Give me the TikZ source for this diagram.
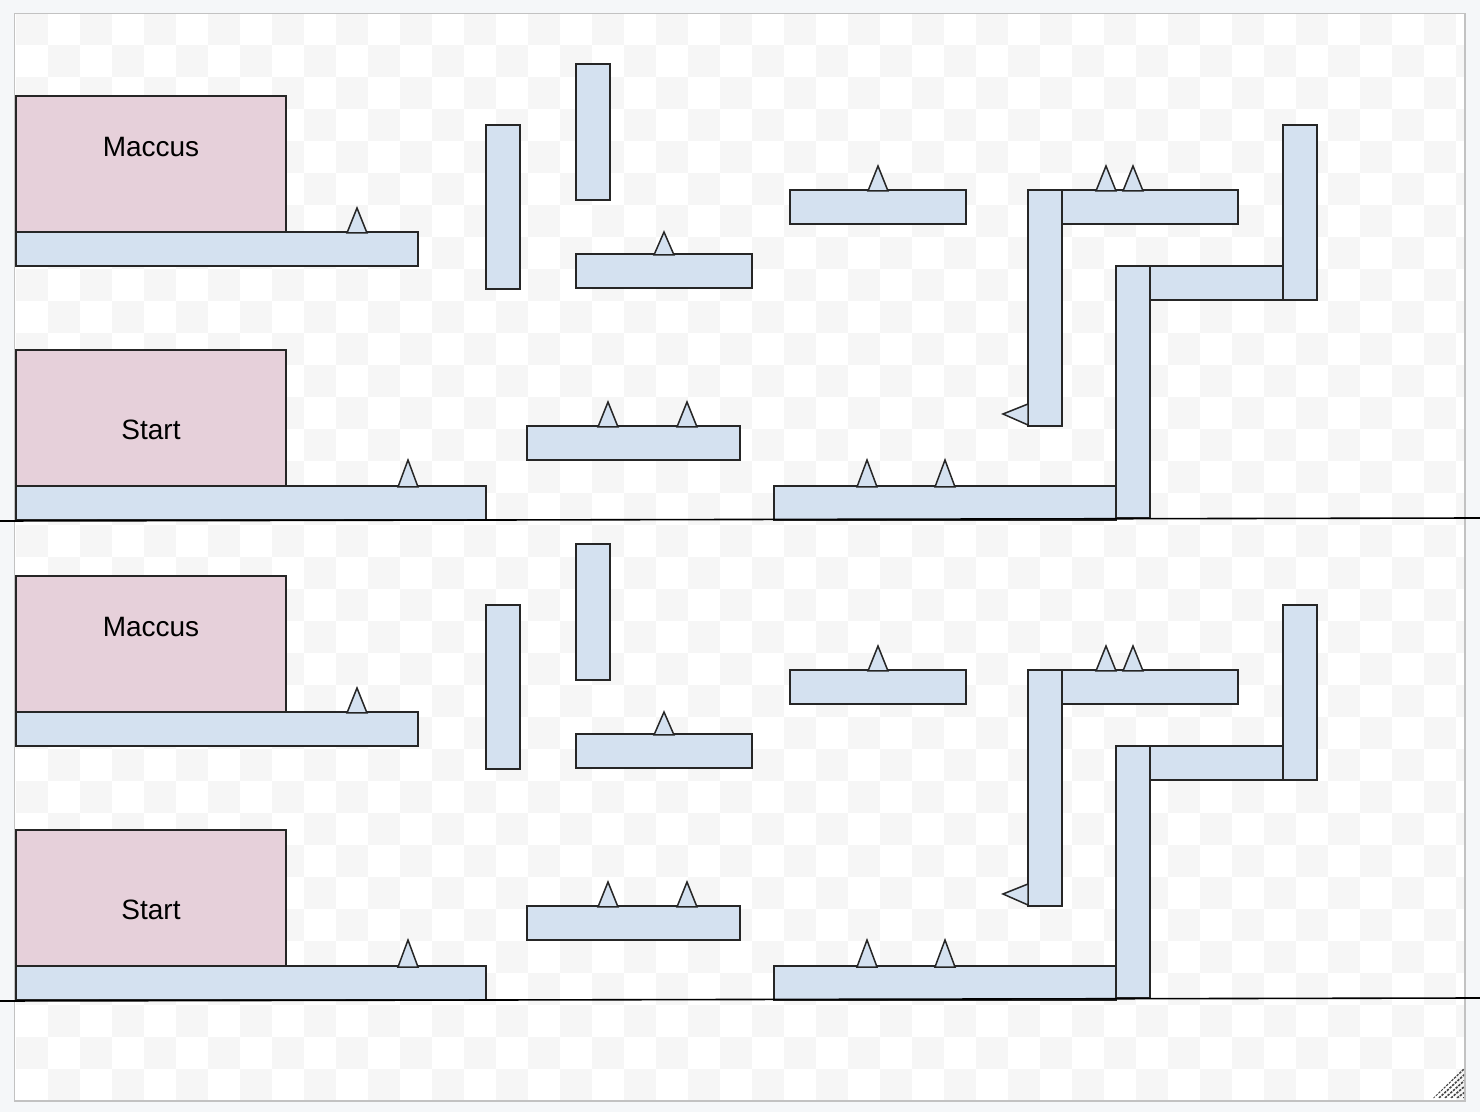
\documentclass[tikz,border=0pt]{standalone}
\usepackage{fontspec}
\setmainfont{Liberation Sans}
\definecolor{bgout}{HTML}{F5F7F9}
\definecolor{checkc}{HTML}{F6F6F6}
\definecolor{framec}{HTML}{C2C2C2}
\definecolor{strokec}{HTML}{262626}
\definecolor{bluef}{HTML}{D4E1F0}
\definecolor{pinkf}{HTML}{E6D0DA}
\definecolor{gripc}{HTML}{444444}
\begin{document}
\begin{tikzpicture}[x=0.5pt,y=-0.5pt,
  plat/.style={draw=strokec,fill=bluef,line width=0.75pt},
  roombox/.style={draw=strokec,fill=pinkf,line width=0.75pt},
  spike/.style={draw=strokec,fill=bluef,line width=0.75pt,line join=miter},
  floorline/.style={draw=black,line width=0.8pt},
  roomlabel/.style={font=\fontsize{14}{16}\selectfont,anchor=base,inner sep=0pt}]
\useasboundingbox (0,0) rectangle (1480,1112);
\fill[bgout] (0,0) rectangle (1480,1112);
\fill[white] (15,14) rectangle (1465,1101);
\begin{scope}
  \clip (15,14) rectangle (1465,1101);
  \foreach \i in {0,...,45} {
    \foreach \j in {0,...,33} {
      \pgfmathtruncatemacro{\cpar}{mod(\i+\j,2)}
      \ifnum\cpar=0
        \fill[checkc] (16+32*\i,13+32*\j) rectangle +(32,32);
      \fi
    }
  }
\end{scope}
\draw[framec,line width=0.9pt] (14.5,13.5) rectangle (1465,1101);
% resize grip
\begin{scope}
  \clip (1433,1098) -- (1464,1098) -- (1464,1068) -- cycle;
  \foreach \k in {0,...,5} {
    \draw[gripc,line width=0.8pt,dash pattern=on 1.2pt off 0.6pt] (1433+6*\k,1098) -- (1465,1068+6*\k);
  }
\end{scope}
\foreach \dy in {0,480} {
\begin{scope}[shift={(0,\dy)}]
  % Maccus room
  \draw[roombox] (16,96) rectangle (286,232);
  \node[roomlabel] (maccus\dy) at (151,157) {Maccus};
  \draw[plat] (16,232) rectangle (418,266);
  \draw[spike] (347,233) -- (357,208) -- (367,233) -- cycle;
  % vertical bars
  \draw[plat] (486,125) rectangle (520,289);
  \draw[plat] (576,64) rectangle (610,200);
  \draw[plat] (576,254) rectangle (752,288);
  \draw[spike] (654,255) -- (664,232) -- (674,255) -- cycle;
  \draw[plat] (790,190) rectangle (966,224);
  \draw[spike] (868,191) -- (878,166) -- (888,191) -- cycle;
  % right structure
  \draw[plat] (1028,190) rectangle (1062,426);
  \draw[spike] (1028,404) -- (1003,414) -- (1028,425) -- cycle;
  \draw[plat] (1062,190) rectangle (1238,224);
  \draw[spike] (1096,191) -- (1106,166) -- (1116,191) -- cycle;
  \draw[spike] (1123,191) -- (1133,166) -- (1143,191) -- cycle;
  \draw[plat] (1283,125) rectangle (1317,300);
  \draw[plat] (1150,266) rectangle (1283,300);
  \draw[plat] (1116,266) rectangle (1150,518);
  % Start room
  \draw[roombox] (16,350) rectangle (286,486);
  \node[roomlabel] (start\dy) at (151,440) {Start};
  \draw[plat] (16,486) rectangle (486,520);
  \draw[spike] (398,487) -- (408,460) -- (418,487) -- cycle;
  \draw[plat] (527,426) rectangle (740,460);
  \draw[spike] (598,427) -- (608,402) -- (618,427) -- cycle;
  \draw[spike] (677,427) -- (687,402) -- (697,427) -- cycle;
  \draw[plat] (774,486) rectangle (1116,520);
  \draw[spike] (857,487) -- (867,460) -- (877,487) -- cycle;
  \draw[spike] (935,487) -- (945,460) -- (955,487) -- cycle;
  % floor line
  \coordinate (fl\dy) at (0,521);
  \coordinate (fr\dy) at (1480,518);
  \draw[floorline] (fl\dy) -- (fr\dy);
\end{scope}
}
\end{tikzpicture}
\end{document}
